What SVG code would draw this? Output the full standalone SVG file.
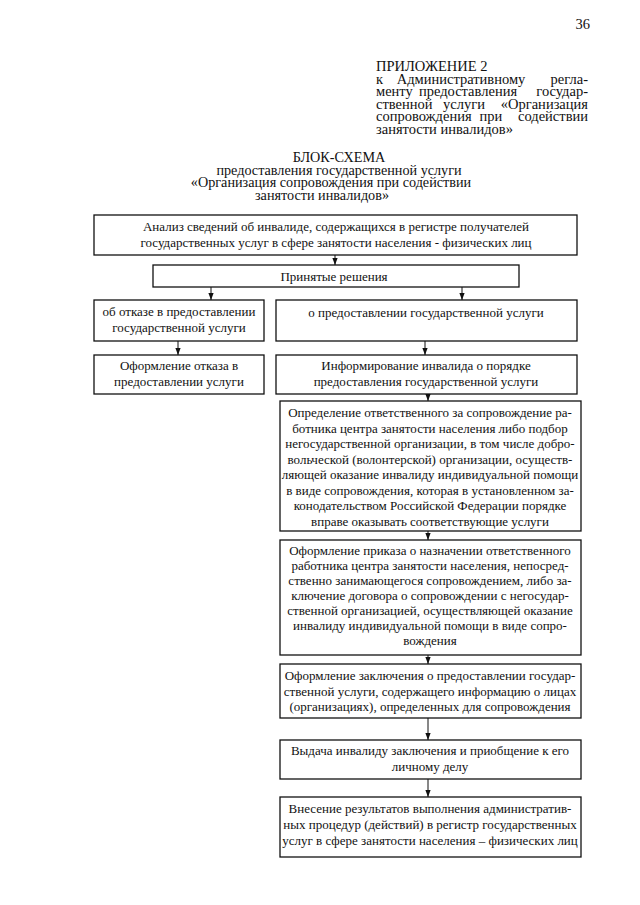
<svg xmlns="http://www.w3.org/2000/svg" width="640" height="905" viewBox="0 0 640 905">
<style>
text{font-family:"Liberation Serif","Times New Roman",serif;fill:#111;}
.h{font-size:14.5px;}
.t{font-size:14.2px;text-anchor:middle;}
.b{font-size:13px;text-anchor:middle;}
.box{fill:#fff;stroke:#111;stroke-width:1.3;}
.c{stroke:#111;stroke-width:1;fill:none;marker-end:url(#ah);}
</style>
<defs>
<marker id="ah" viewBox="0 0 8 8" refX="8" refY="4" markerWidth="7" markerHeight="7" markerUnits="userSpaceOnUse" orient="auto">
<path d="M0,1 L8,4 L0,7 Z" fill="#111"/>
</marker>
</defs>
<rect width="640" height="905" fill="#fff"/>
<g id="header">
<text x="590" y="29" class="h" text-anchor="end">36</text>
<text x="376" y="71" class="h" font-size="15">ПРИЛОЖЕНИЕ 2</text>
<text class="h" y="83.5"><tspan x="376">к</tspan><tspan x="461" text-anchor="middle">Административному</tspan><tspan x="588" text-anchor="end">регла-</tspan></text>
<text class="h" y="96"><tspan x="376">менту</tspan><tspan x="468" text-anchor="middle">предоставления</tspan><tspan x="588" text-anchor="end">государ-</tspan></text>
<text class="h" y="108.5"><tspan x="376">ственной</tspan><tspan x="464" text-anchor="middle">услуги</tspan><tspan x="588" text-anchor="end">«Организация</tspan></text>
<text class="h" y="121"><tspan x="376">сопровождения</tspan><tspan x="491" text-anchor="middle">при</tspan><tspan x="588" text-anchor="end">содействии</tspan></text>
<text class="h" x="376" y="133.5">занятости инвалидов»</text>
</g>
<g id="title">
<text class="t" x="339" y="162" font-size="14.8">БЛОК-СХЕМА</text>
<text class="t" x="339" y="174.5">предоставления государственной услуги</text>
<text class="t" x="331" y="187">«Организация сопровождения при содействии</text>
<text class="t" x="322" y="199.5">занятости инвалидов»</text>
</g>
<g id="connectors">
<line class="c" x1="335" y1="255" x2="335" y2="265"/>
<line class="c" x1="211" y1="287" x2="211" y2="300"/>
<line class="c" x1="462" y1="287" x2="462" y2="300"/>
<line class="c" x1="178" y1="341" x2="178" y2="355"/>
<line class="c" x1="425" y1="341" x2="425" y2="355"/>
<line class="c" x1="428" y1="394" x2="428" y2="401"/>
<line class="c" x1="428" y1="531" x2="428" y2="540"/>
<line class="c" x1="428" y1="655" x2="428" y2="664"/>
<line class="c" x1="428" y1="718" x2="428" y2="740"/>
<line class="c" x1="428" y1="779" x2="428" y2="797"/>
</g>
<g id="n1">
<rect class="box" x="94" y="215" width="483" height="40"/>
<text class="b" x="336" y="231">Анализ сведений об инвалиде, содержащихся в регистре получателей</text>
<text class="b" x="336" y="247">государственных услуг в сфере занятости населения - физических лиц</text>
</g>
<g id="n2">
<rect class="box" x="153" y="265" width="366" height="22"/>
<text class="b" x="334" y="281">Принятые решения</text>
</g>
<g id="n3">
<rect class="box" x="94" y="300" width="170" height="41"/>
<text class="b" x="179" y="316">об отказе в предоставлении</text>
<text class="b" x="179" y="332">государственной услуги</text>
</g>
<g id="n4">
<rect class="box" x="276" y="300" width="301" height="41"/>
<text class="b" x="426" y="317">о предоставлении государственной услуги</text>
</g>
<g id="n5">
<rect class="box" x="94" y="355" width="170" height="39"/>
<text class="b" x="179" y="370">Оформление отказа в</text>
<text class="b" x="179" y="386">предоставлении услуги</text>
</g>
<g id="n6">
<rect class="box" x="276" y="355" width="301" height="39"/>
<text class="b" x="426" y="370">Информирование инвалида о порядке</text>
<text class="b" x="426" y="386">предоставления государственной услуги</text>
</g>
<g id="n7">
<rect class="box" x="280" y="401" width="301" height="130"/>
<text class="b" x="430" y="417">Определение ответственного за сопровождение ра-</text>
<text class="b" x="430" y="432.5">ботника центра занятости населения либо подбор</text>
<text class="b" x="430" y="448">негосударственной организации, в том числе добро-</text>
<text class="b" x="430" y="463.5">вольческой (волонтерской) организации, осуществ-</text>
<text class="b" x="430" y="479">ляющей оказание инвалиду индивидуальной помощи</text>
<text class="b" x="430" y="494.5">в виде сопровождения, которая в установленном за-</text>
<text class="b" x="430" y="510">конодательством Российской Федерации порядке</text>
<text class="b" x="430" y="525.5">вправе оказывать соответствующие услуги</text>
</g>
<g id="n8">
<rect class="box" x="280" y="540" width="301" height="115"/>
<text class="b" x="430" y="555">Оформление приказа о назначении ответственного</text>
<text class="b" x="430" y="570">работника центра занятости населения, непосред-</text>
<text class="b" x="430" y="585">ственно занимающегося сопровождением, либо за-</text>
<text class="b" x="430" y="600">ключение договора о сопровождении с негосудар-</text>
<text class="b" x="430" y="615">ственной организацией, осуществляющей оказание</text>
<text class="b" x="430" y="630">инвалиду индивидуальной помощи в виде сопро-</text>
<text class="b" x="430" y="645">вождения</text>
</g>
<g id="n9">
<rect class="box" x="280" y="664" width="301" height="54"/>
<text class="b" x="430" y="680">Оформление заключения о предоставлении государ-</text>
<text class="b" x="430" y="695.5">ственной услуги, содержащего информацию о лицах</text>
<text class="b" x="430" y="711">(организациях), определенных для сопровождения</text>
</g>
<g id="n10">
<rect class="box" x="280" y="740" width="301" height="39"/>
<text class="b" x="430" y="755">Выдача инвалиду заключения и приобщение к его</text>
<text class="b" x="430" y="771">личному делу</text>
</g>
<g id="n11">
<rect class="box" x="280" y="797" width="301" height="60"/>
<text class="b" x="430" y="813">Внесение результатов выполнения административ-</text>
<text class="b" x="430" y="829">ных процедур (действий) в регистр государственных</text>
<text class="b" x="430" y="845">услуг в сфере занятости населения – физических лиц</text>
</g>
</svg>
